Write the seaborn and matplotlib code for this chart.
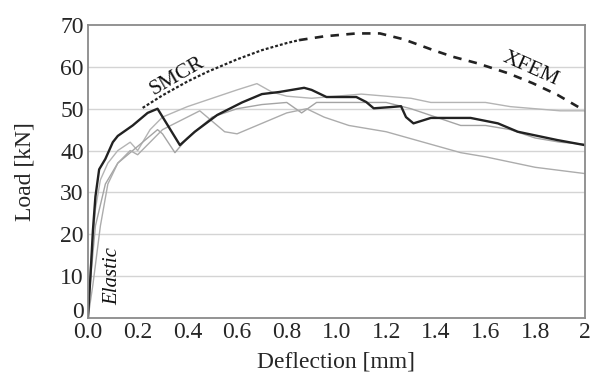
import matplotlib
matplotlib.use("Agg")
import matplotlib.pyplot as plt
import matplotlib.transforms as mtransforms
import seaborn as sns
import pandas as pd

# Numerical model (thick black)
model_x = [0.0, 0.01, 0.02, 0.03, 0.045, 0.07, 0.10, 0.12, 0.18, 0.24, 0.28, 0.37, 0.43, 0.52, 0.62,
           0.70, 0.77, 0.87, 0.90, 0.96, 1.08, 1.12, 1.15, 1.22, 1.26, 1.28, 1.31, 1.38, 1.54, 1.65,
           1.73, 1.89, 2.0]
model_y = [0.0, 10.0, 21.0, 29.0, 35.5, 38.0, 42.0, 43.5, 46.0, 49.0, 50.0, 41.3, 44.5, 48.5, 51.5,
           53.5, 54.0, 55.0, 54.5, 52.8, 52.8, 51.6, 50.1, 50.4, 50.6, 48.0, 46.5, 47.8, 47.8, 46.5,
           44.5, 42.5, 41.3]

# Test specimens (thin grey)
test1_x = [0.0, 0.01, 0.03, 0.05, 0.08, 0.12, 0.17, 0.20, 0.25, 0.30, 0.40, 0.50, 0.60, 0.68, 0.74,
           0.80, 0.90, 1.00, 1.10, 1.20, 1.30, 1.38, 1.50, 1.60, 1.70, 1.80, 1.90, 2.0]
test1_y = [0.0, 12.0, 26.0, 33.0, 37.0, 40.0, 42.0, 40.0, 45.0, 48.0, 50.5, 52.5, 54.5, 56.0, 54.0,
           53.0, 52.5, 53.0, 53.5, 53.0, 52.5, 51.5, 51.5, 51.5, 50.5, 50.0, 49.5, 49.5]

test2_x = [0.0, 0.01, 0.03, 0.07, 0.12, 0.18, 0.22, 0.28, 0.30, 0.35, 0.40, 0.50, 0.60, 0.70, 0.80,
           0.86, 0.92, 1.00, 1.20, 1.30, 1.40, 1.50, 1.60, 1.70, 1.80, 1.90, 2.0]
test2_y = [0.0, 9.0, 22.0, 32.0, 37.0, 40.0, 42.0, 45.0, 44.0, 39.5, 43.0, 48.0, 50.0, 51.0, 51.5,
           49.0, 51.5, 51.5, 51.5, 50.0, 48.0, 46.0, 46.0, 45.0, 43.0, 42.0, 41.5]

test3_x = [0.0, 0.02, 0.05, 0.08, 0.12, 0.17, 0.20, 0.25, 0.30, 0.40, 0.45, 0.50, 0.55, 0.60, 0.70,
           0.80, 0.88, 0.95, 1.05, 1.20, 1.35, 1.50, 1.60, 1.80, 2.0]
test3_y = [0.0, 8.0, 22.0, 32.0, 37.0, 40.0, 39.0, 42.0, 45.0, 48.0, 49.5, 47.0, 44.5, 44.0, 46.5,
           49.0, 50.0, 48.0, 46.0, 44.5, 42.0, 39.5, 38.5, 36.0, 34.5]

# Smeared crack (SMCR) branch and XFEM branch of the upper envelope
smcr_x = [0.22, 0.30, 0.40, 0.48, 0.60, 0.70, 0.80, 0.85]
smcr_y = [50.2, 53.2, 56.5, 58.8, 61.8, 64.0, 65.7, 66.4]
xfem_x = [0.85, 0.95, 1.08, 1.175, 1.27, 1.39, 1.47, 1.565, 1.69, 1.79, 1.89, 2.0]
xfem_y = [66.4, 67.3, 68.0, 68.0, 66.6, 64.0, 62.4, 60.9, 58.5, 56.1, 53.3, 49.5]

x_ticks = [0.0, 0.2, 0.4, 0.6, 0.8, 1.0, 1.2, 1.4, 1.6, 1.8, 2.0]
x_tick_labels = ["0.0", "0.2", "0.4", "0.6", "0.8", "1.0", "1.2", "1.4", "1.6", "1.8", "2"]
y_ticks = [0, 10, 20, 30, 40, 50, 60, 70]

sns.set_style("white")
plt.rcParams["font.family"] = ["Liberation Serif", "DejaVu Serif"]
fs = 17

fig = plt.figure(figsize=(5.92, 3.74), dpi=100)
ax = fig.add_axes([0.1486, 0.150, 0.8394, 0.783])

for ty in y_ticks[1:-1]:
    ax.axhline(ty, color="#d4d4d4", lw=1.0, zorder=0)

greys = ["#b4b4b4", "#a4a4a4", "#acacac"]
for (tx, tyv), c in zip([(test1_x, test1_y), (test2_x, test2_y), (test3_x, test3_y)], greys):
    sns.lineplot(data=pd.DataFrame({"x": tx, "y": tyv}), x="x", y="y", ax=ax,
                 sort=False, estimator=None, color=c, lw=1.0)

sns.lineplot(data=pd.DataFrame({"x": model_x, "y": model_y}), x="x", y="y", ax=ax,
             sort=False, estimator=None, color="#222222", lw=1.7)

sns.lineplot(data=pd.DataFrame({"x": smcr_x, "y": smcr_y}), x="x", y="y", ax=ax,
             sort=False, estimator=None, color="#222222", lw=1.6)
ax.lines[-1].set_linestyle((0, (1.3, 0.9)))
sns.lineplot(data=pd.DataFrame({"x": xfem_x, "y": xfem_y}), x="x", y="y", ax=ax,
             sort=False, estimator=None, color="#222222", lw=1.9)
ax.lines[-1].set_linestyle((0, (3.2, 2.8)))

ax.text(0.36, 57.8, "SMCR", rotation=30, ha="center", va="center", fontsize=15.5, color="#111111")
ax.text(1.78, 59.6, "XFEM", rotation=-24, ha="center", va="center", fontsize=15.5, color="#111111")
ax.text(0.10, 10.0, "Elastic", rotation=90, ha="center", va="center", fontsize=15,
        style="italic", color="#111111")

ax.set_xlim(0, 2.0)
ax.set_ylim(0, 70)
ax.set_xticks(x_ticks)
ax.set_xticklabels(x_tick_labels, fontsize=fs)
ax.set_yticks(y_ticks)
ax.set_yticklabels([str(v) for v in y_ticks], fontsize=fs)
ax.tick_params(length=0, pad=3)

# lift the "0" on the load axis so it clears the "0.0" below it
zero_label = ax.get_yticklabels()[0]
zero_label.set_transform(zero_label.get_transform()
                         + mtransforms.ScaledTranslation(0, 6 / 72, fig.dpi_scale_trans))

ax.set_xlabel("Deflection [mm]", fontsize=fs, labelpad=6)
ax.set_ylabel("Load [kN]", fontsize=fs, labelpad=18)
for s in ax.spines.values():
    s.set_color("#8a8a8a")
    s.set_linewidth(1.3)

fig.savefig("out.png", dpi=100)
